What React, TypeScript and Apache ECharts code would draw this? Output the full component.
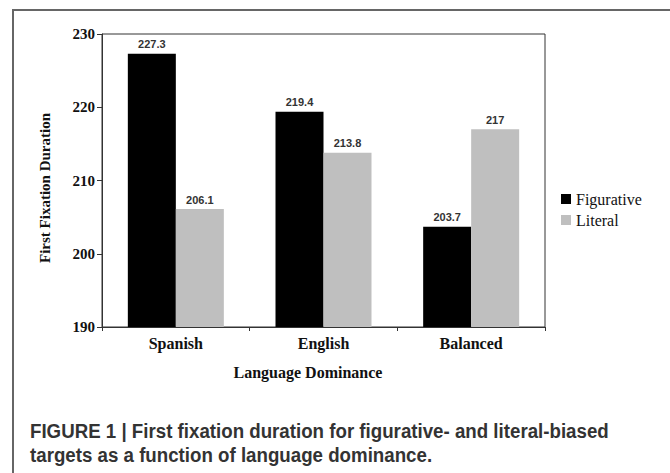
import React, { useEffect, useRef } from 'react';
import * as echarts from 'echarts';

const categories = ['Spanish', 'English', 'Balanced'];
const seriesNames = ['Figurative', 'Literal'];
const figurative = [227.3, 219.4, 203.7];
const literal = [206.1, 213.8, 217];
const yMin = 190;
const yMax = 230;
const yStep = 10;
const yAxisTitle = 'First Fixation Duration';
const xAxisTitle = 'Language Dominance';
const captionLines = [
  'FIGURE 1 | First fixation duration for figurative- and literal-biased',
  'targets as a function of language dominance.',
];

export default function App() {
  const ref = useRef<HTMLDivElement>(null);
  useEffect(() => {
    const chart = echarts.init(ref.current!, null, { renderer: 'svg' });
    const serif = "'Liberation Serif', 'Times New Roman', serif";
    const sans = "'Liberation Sans', Arial, sans-serif";
    const axisColor = '#333';
    const labelStyle = {
      show: true,
      position: 'top',
      distance: 4,
      fontFamily: sans,
      fontSize: 11,
      fontWeight: 'bold',
      color: '#333',
    };
    chart.setOption({
      animation: false,
      backgroundColor: '#ffffff',
      grid: {
        left: 102,
        top: 34,
        right: 125,
        bottom: 146,
        show: true,
        borderColor: axisColor,
        borderWidth: 1,
      },
      legend: {
        orient: 'vertical',
        left: 561,
        top: 191,
        padding: 0,
        itemWidth: 10,
        itemHeight: 10,
        itemGap: 5,
        icon: 'rect',
        data: seriesNames,
        textStyle: { fontFamily: serif, fontSize: 16, color: '#111' },
      },
      xAxis: {
        type: 'category',
        data: categories,
        axisLine: { show: true, lineStyle: { color: axisColor, width: 1 } },
        axisTick: { show: true, length: 4, lineStyle: { color: axisColor } },
        axisLabel: {
          fontFamily: serif,
          fontSize: 16,
          fontWeight: 'bold',
          color: '#111',
          margin: 8,
        },
      },
      yAxis: {
        type: 'value',
        min: yMin,
        max: yMax,
        interval: yStep,
        splitLine: { show: false },
        axisLine: { show: true, lineStyle: { color: axisColor, width: 1 } },
        axisTick: { show: true, length: 5, lineStyle: { color: axisColor } },
        axisLabel: {
          fontFamily: serif,
          fontSize: 15,
          fontWeight: 'bold',
          color: '#111',
          margin: 7,
        },
      },
      series: [
        {
          name: seriesNames[0],
          type: 'bar',
          data: figurative,
          barWidth: 48,
          barGap: '0%',
          itemStyle: { color: '#000000' },
          label: labelStyle,
        },
        {
          name: seriesNames[1],
          type: 'bar',
          data: literal,
          barWidth: 48,
          barGap: '0%',
          itemStyle: { color: '#bfbfbf' },
          label: labelStyle,
        },
      ],
      graphic: [
        {
          type: 'polyline',
          shape: { points: [[13, 473], [13, 10], [670, 10]] },
          style: { stroke: '#666', lineWidth: 2, fill: 'none' },
          silent: true,
        },
        {
          type: 'text',
          x: 45,
          y: 188,
          rotation: Math.PI / 2,
          style: {
            text: yAxisTitle,
            fontFamily: serif,
            fontSize: 15,
            fontWeight: 'bold',
            fill: '#111',
            align: 'center',
            verticalAlign: 'middle',
          },
        },
        {
          type: 'text',
          x: 308,
          y: 372,
          style: {
            text: xAxisTitle,
            fontFamily: serif,
            fontSize: 16,
            fontWeight: 'bold',
            fill: '#111',
            align: 'center',
            verticalAlign: 'middle',
          },
        },
        {
          type: 'text',
          x: 30,
          y: 431,
          scaleX: 0.935,
          style: {
            text: captionLines[0],
            fontFamily: sans,
            fontSize: 20,
            fontWeight: 'bold',
            fill: '#333',
            align: 'left',
            verticalAlign: 'middle',
          },
        },
        {
          type: 'text',
          x: 30,
          y: 455,
          scaleX: 0.935,
          style: {
            text: captionLines[1],
            fontFamily: sans,
            fontSize: 20,
            fontWeight: 'bold',
            fill: '#333',
            align: 'left',
            verticalAlign: 'middle',
          },
        },
      ],
    });
    return () => chart.dispose();
  }, []);
  return (
    <div
      ref={ref}
      style={{ position: 'fixed', left: 0, top: 0, width: 670, height: 473 }}
    />
  );
}
